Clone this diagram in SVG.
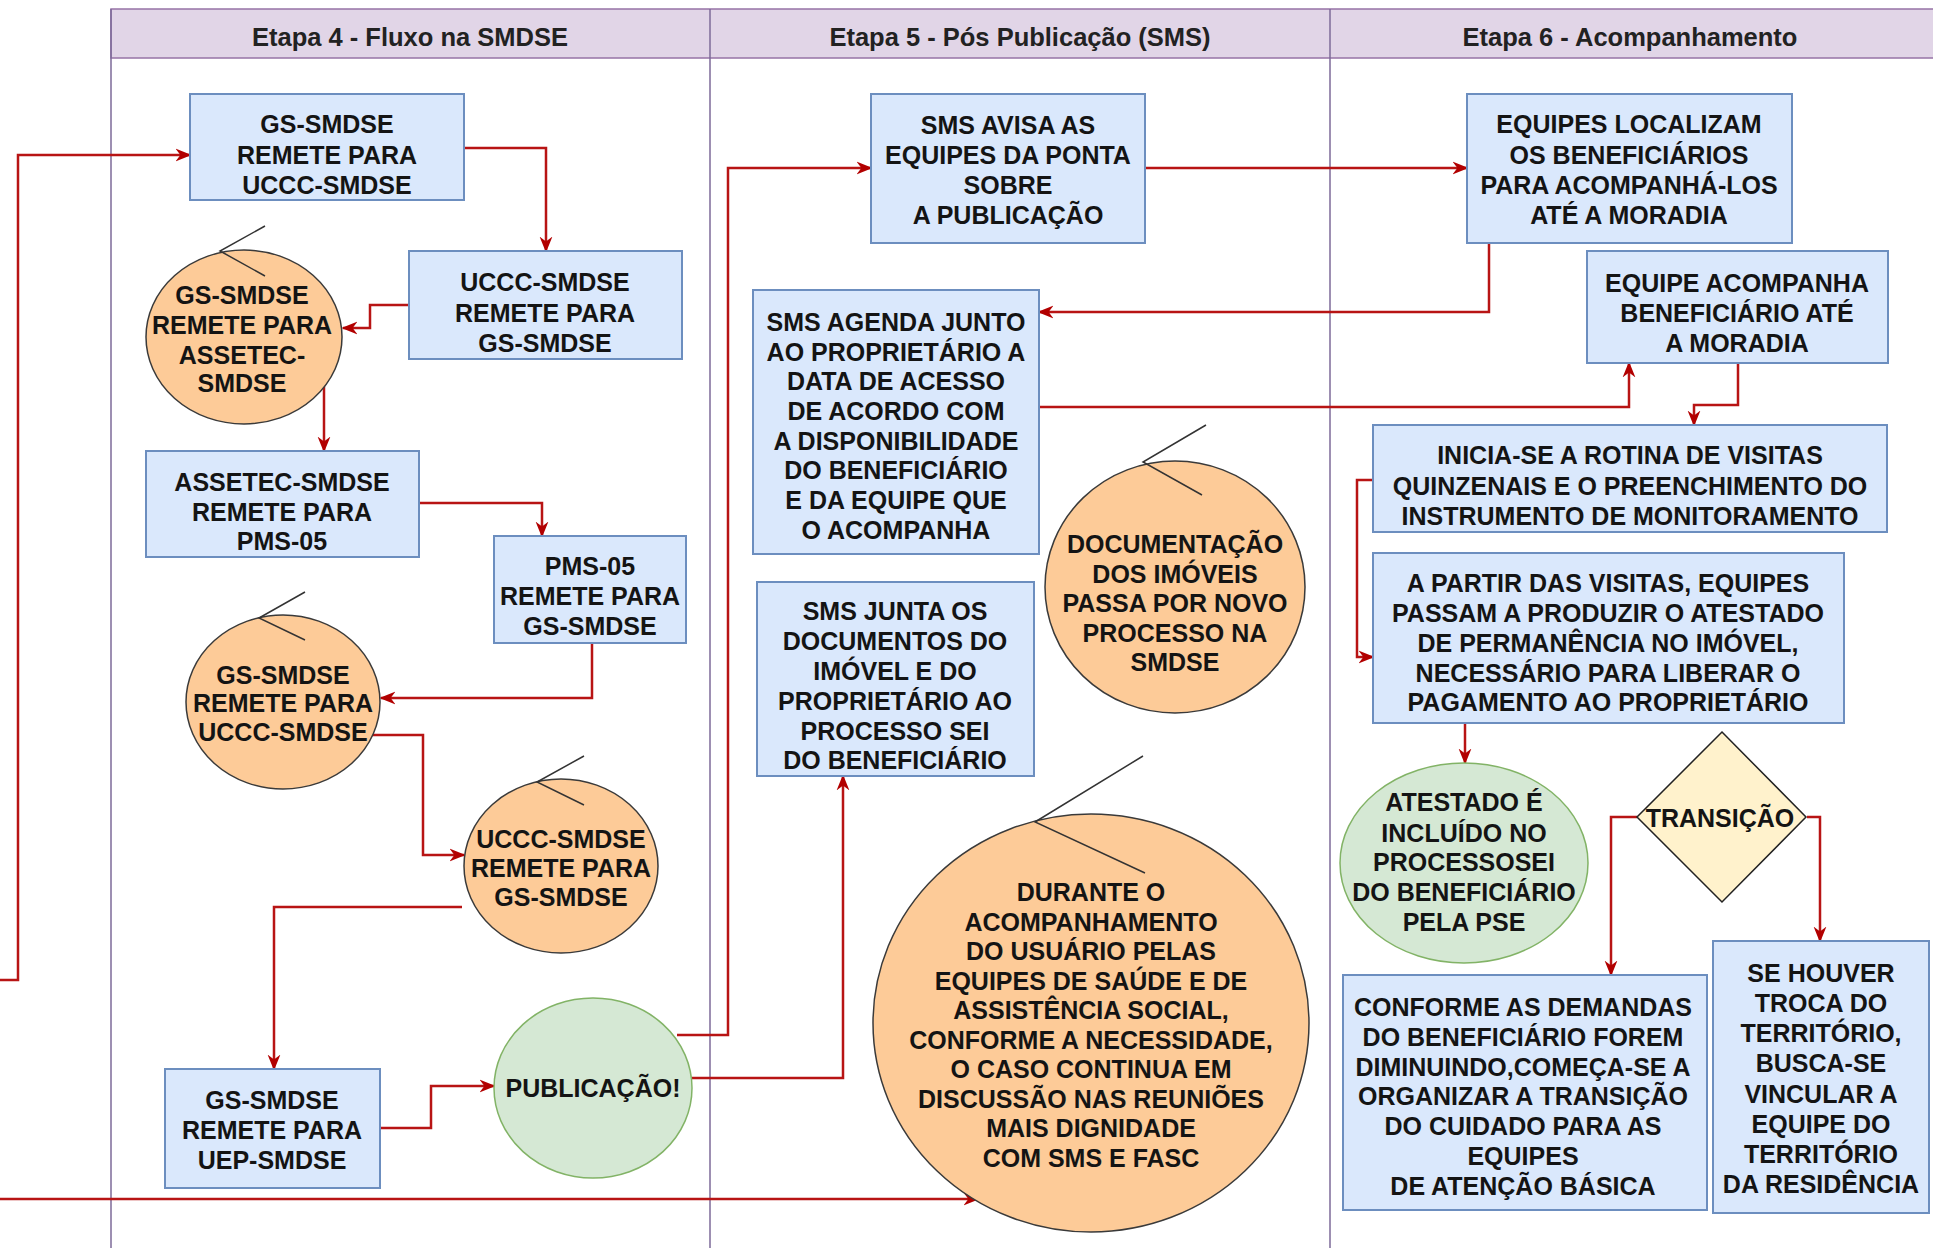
<svg xmlns="http://www.w3.org/2000/svg" width="1933" height="1248" viewBox="0 0 1933 1248">
<style>
text{font-family:"Liberation Sans",Arial,Helvetica,sans-serif;font-weight:bold;font-size:25px;fill:#141414;text-anchor:middle}
.hdr{font-size:25.5px;fill:#222}
.box{fill:#dae8fc;stroke:#6c8ebf;stroke-width:2}
.org{fill:#fdcb98;stroke:#3a3a3a;stroke-width:1.5}
.grn{fill:#d5e8d4;stroke:#82b366;stroke-width:1.5}
.dia{fill:#fff2cc;stroke:#222;stroke-width:1.5}
.tail{fill:none;stroke:#333;stroke-width:1.5}
.lane{fill:none;stroke:#7d6a99;stroke-width:1.5}
.band{fill:#e1d5e7;stroke:#9673a6;stroke-width:1.5}
.edge{fill:none;stroke:#b81414;stroke-width:2.5;marker-end:url(#ah)}
</style>
<defs>
<marker id="ah" viewBox="0 0 10 10" refX="9" refY="5" markerWidth="16" markerHeight="16" markerUnits="userSpaceOnUse" orient="auto">
<path d="M0,1 L10,5 L0,9 L3,5 z" fill="#b20000"/>
</marker>
</defs>
<rect width="1933" height="1248" fill="#ffffff"/>

<g id="lanes">
<rect class="band" x="111" y="9" width="1830" height="49"/>
<line class="lane" x1="111" y1="9" x2="111" y2="1248"/>
<line class="lane" x1="710" y1="9" x2="710" y2="1248"/>
<line class="lane" x1="1330" y1="9" x2="1330" y2="1248"/>
<text class="hdr" x="410" y="46">Etapa 4 - Fluxo na SMDSE</text>
<text class="hdr" x="1020" y="46">Etapa 5 - Pós Publicação (SMS)</text>
<text class="hdr" x="1630" y="46">Etapa 6 - Acompanhamento</text>
</g>

<g id="connectors">
<path class="edge" d="M0,980 H18 V155 H190"/>
<path class="edge" d="M0,1199 H978"/>
<path class="edge" d="M464,148 H546 V251"/>
<path class="edge" d="M409,305 H370 V328 H343"/>
<path class="edge" d="M324,373 V451"/>
<path class="edge" d="M419,503 H542 V536"/>
<path class="edge" d="M592,643 V698 H381"/>
<path class="edge" d="M370,735 H423 V855 H464"/>
<path class="edge" d="M462,907 H274 V1069"/>
<path class="edge" d="M380,1128 H431 V1086 H494"/>
<path class="edge" d="M677,1035 H728 V168 H871"/>
<path class="edge" d="M692,1078 H843 V776"/>
<path class="edge" d="M1145,168 H1467"/>
<path class="edge" d="M1489,243 V312 H1039"/>
<path class="edge" d="M1039,407 H1629 V363"/>
<path class="edge" d="M1738,363 V405 H1694 V425"/>
<path class="edge" d="M1373,480 H1357 V657 H1373"/>
<path class="edge" d="M1465,723 V763"/>
<path class="edge" d="M1637,817 H1611 V975"/>
<path class="edge" d="M1807,817 H1820 V941"/>
</g>

<g id="n1">
<rect class="box" x="190" y="94" width="274" height="106"/>
<text x="327" y="133">GS-SMDSE</text>
<text x="327" y="164">REMETE PARA</text>
<text x="327" y="194">UCCC-SMDSE</text>
</g>

<g id="n2">
<rect class="box" x="409" y="251" width="273" height="108"/>
<text x="545" y="291">UCCC-SMDSE</text>
<text x="545" y="322">REMETE PARA</text>
<text x="545" y="352">GS-SMDSE</text>
</g>

<g id="n3">
<ellipse class="org" cx="244" cy="337" rx="98" ry="87"/>
<polyline class="tail" points="265,226 220,251 265,276"/>
<text x="242" y="304">GS-SMDSE</text>
<text x="242" y="334">REMETE PARA</text>
<text x="242" y="364">ASSETEC-</text>
<text x="242" y="392">SMDSE</text>
</g>

<g id="n4">
<rect class="box" x="146" y="451" width="273" height="106"/>
<text x="282" y="491">ASSETEC-SMDSE</text>
<text x="282" y="521">REMETE PARA</text>
<text x="282" y="550">PMS-05</text>
</g>

<g id="n5">
<rect class="box" x="494" y="536" width="192" height="107"/>
<text x="590" y="575">PMS-05</text>
<text x="590" y="605">REMETE PARA</text>
<text x="590" y="635">GS-SMDSE</text>
</g>

<g id="n6">
<ellipse class="org" cx="283" cy="702" rx="97" ry="87"/>
<polyline class="tail" points="305,592 259,618 305,640"/>
<text x="283" y="684">GS-SMDSE</text>
<text x="283" y="712">REMETE PARA</text>
<text x="283" y="741">UCCC-SMDSE</text>
</g>

<g id="n7">
<ellipse class="org" cx="561" cy="866" rx="97" ry="87"/>
<polyline class="tail" points="584,756 537,782 584,805"/>
<text x="561" y="848">UCCC-SMDSE</text>
<text x="561" y="877">REMETE PARA</text>
<text x="561" y="906">GS-SMDSE</text>
</g>

<g id="n8">
<rect class="box" x="165" y="1069" width="215" height="119"/>
<text x="272" y="1109">GS-SMDSE</text>
<text x="272" y="1139">REMETE PARA</text>
<text x="272" y="1169">UEP-SMDSE</text>
</g>

<g id="n9">
<ellipse class="grn" cx="593" cy="1088" rx="99" ry="90"/>
<text x="593" y="1097">PUBLICAÇÃO!</text>
</g>

<g id="n10">
<rect class="box" x="871" y="94" width="274" height="149"/>
<text x="1008" y="134">SMS AVISA AS</text>
<text x="1008" y="164">EQUIPES DA PONTA</text>
<text x="1008" y="194">SOBRE</text>
<text x="1008" y="224">A PUBLICAÇÃO</text>
</g>

<g id="n11">
<rect class="box" x="753" y="290" width="286" height="264"/>
<text x="896" y="331">SMS AGENDA JUNTO</text>
<text x="896" y="361">AO PROPRIETÁRIO A</text>
<text x="896" y="390">DATA DE ACESSO</text>
<text x="896" y="420">DE ACORDO COM</text>
<text x="896" y="450">A DISPONIBILIDADE</text>
<text x="896" y="479">DO BENEFICIÁRIO</text>
<text x="896" y="509">E DA EQUIPE QUE</text>
<text x="896" y="539">O ACOMPANHA</text>
</g>

<g id="n12">
<rect class="box" x="757" y="582" width="277" height="194"/>
<text x="895" y="620">SMS JUNTA OS</text>
<text x="895" y="650">DOCUMENTOS DO</text>
<text x="895" y="680">IMÓVEL E DO</text>
<text x="895" y="710">PROPRIETÁRIO AO</text>
<text x="895" y="740">PROCESSO SEI</text>
<text x="895" y="769">DO BENEFICIÁRIO</text>
</g>

<g id="n13">
<ellipse class="org" cx="1175" cy="587" rx="130" ry="126"/>
<polyline class="tail" points="1206,425 1143,462 1202,495"/>
<text x="1175" y="553">DOCUMENTAÇÃO</text>
<text x="1175" y="583">DOS IMÓVEIS</text>
<text x="1175" y="612">PASSA POR NOVO</text>
<text x="1175" y="642">PROCESSO NA</text>
<text x="1175" y="671">SMDSE</text>
</g>

<g id="n14">
<ellipse class="org" cx="1091" cy="1023" rx="218" ry="209"/>
<polyline class="tail" points="1143,756 1035,822 1145,873"/>
<text x="1091" y="901">DURANTE O</text>
<text x="1091" y="931">ACOMPANHAMENTO</text>
<text x="1091" y="960">DO USUÁRIO PELAS</text>
<text x="1091" y="990">EQUIPES DE SAÚDE E DE</text>
<text x="1091" y="1019">ASSISTÊNCIA SOCIAL,</text>
<text x="1091" y="1049">CONFORME A NECESSIDADE,</text>
<text x="1091" y="1078">O CASO CONTINUA EM</text>
<text x="1091" y="1108">DISCUSSÃO NAS REUNIÕES</text>
<text x="1091" y="1137">MAIS DIGNIDADE</text>
<text x="1091" y="1167">COM SMS E FASC</text>
</g>

<g id="n15">
<rect class="box" x="1467" y="94" width="325" height="149"/>
<text x="1629" y="133">EQUIPES LOCALIZAM</text>
<text x="1629" y="164">OS BENEFICIÁRIOS</text>
<text x="1629" y="194">PARA ACOMPANHÁ-LOS</text>
<text x="1629" y="224">ATÉ A MORADIA</text>
</g>

<g id="n16">
<rect class="box" x="1587" y="251" width="301" height="112"/>
<text x="1737" y="292">EQUIPE ACOMPANHA</text>
<text x="1737" y="322">BENEFICIÁRIO ATÉ</text>
<text x="1737" y="352">A MORADIA</text>
</g>

<g id="n17">
<rect class="box" x="1373" y="425" width="514" height="107"/>
<text x="1630" y="464">INICIA-SE A ROTINA DE VISITAS</text>
<text x="1630" y="495">QUINZENAIS E O PREENCHIMENTO DO</text>
<text x="1630" y="525">INSTRUMENTO DE MONITORAMENTO</text>
</g>

<g id="n18">
<rect class="box" x="1373" y="553" width="471" height="170"/>
<text x="1608" y="592">A PARTIR DAS VISITAS, EQUIPES</text>
<text x="1608" y="622">PASSAM A PRODUZIR O ATESTADO</text>
<text x="1608" y="652">DE PERMANÊNCIA NO IMÓVEL,</text>
<text x="1608" y="682">NECESSÁRIO PARA LIBERAR O</text>
<text x="1608" y="711">PAGAMENTO AO PROPRIETÁRIO</text>
</g>

<g id="n19">
<ellipse class="grn" cx="1464" cy="863" rx="124" ry="100"/>
<text x="1464" y="811">ATESTADO É</text>
<text x="1464" y="842">INCLUÍDO NO</text>
<text x="1464" y="871">PROCESSOSEI</text>
<text x="1464" y="901">DO BENEFICIÁRIO</text>
<text x="1464" y="931">PELA PSE</text>
</g>

<g id="n20">
<polygon class="dia" points="1722,732 1806,817 1722,902 1637,817"/>
<text x="1720" y="827">TRANSIÇÃO</text>
</g>

<g id="n21">
<rect class="box" x="1343" y="975" width="364" height="235"/>
<text x="1523" y="1016">CONFORME AS DEMANDAS</text>
<text x="1523" y="1046">DO BENEFICIÁRIO FOREM</text>
<text x="1523" y="1076">DIMINUINDO,COMEÇA-SE A</text>
<text x="1523" y="1105">ORGANIZAR A TRANSIÇÃO</text>
<text x="1523" y="1135">DO CUIDADO PARA AS</text>
<text x="1523" y="1165">EQUIPES</text>
<text x="1523" y="1195">DE ATENÇÃO BÁSICA</text>
</g>

<g id="n22">
<rect class="box" x="1713" y="941" width="216" height="272"/>
<text x="1821" y="982">SE HOUVER</text>
<text x="1821" y="1012">TROCA DO</text>
<text x="1821" y="1042">TERRITÓRIO,</text>
<text x="1821" y="1072">BUSCA-SE</text>
<text x="1821" y="1103">VINCULAR A</text>
<text x="1821" y="1133">EQUIPE DO</text>
<text x="1821" y="1163">TERRITÓRIO</text>
<text x="1821" y="1193">DA RESIDÊNCIA</text>
</g>
</svg>
